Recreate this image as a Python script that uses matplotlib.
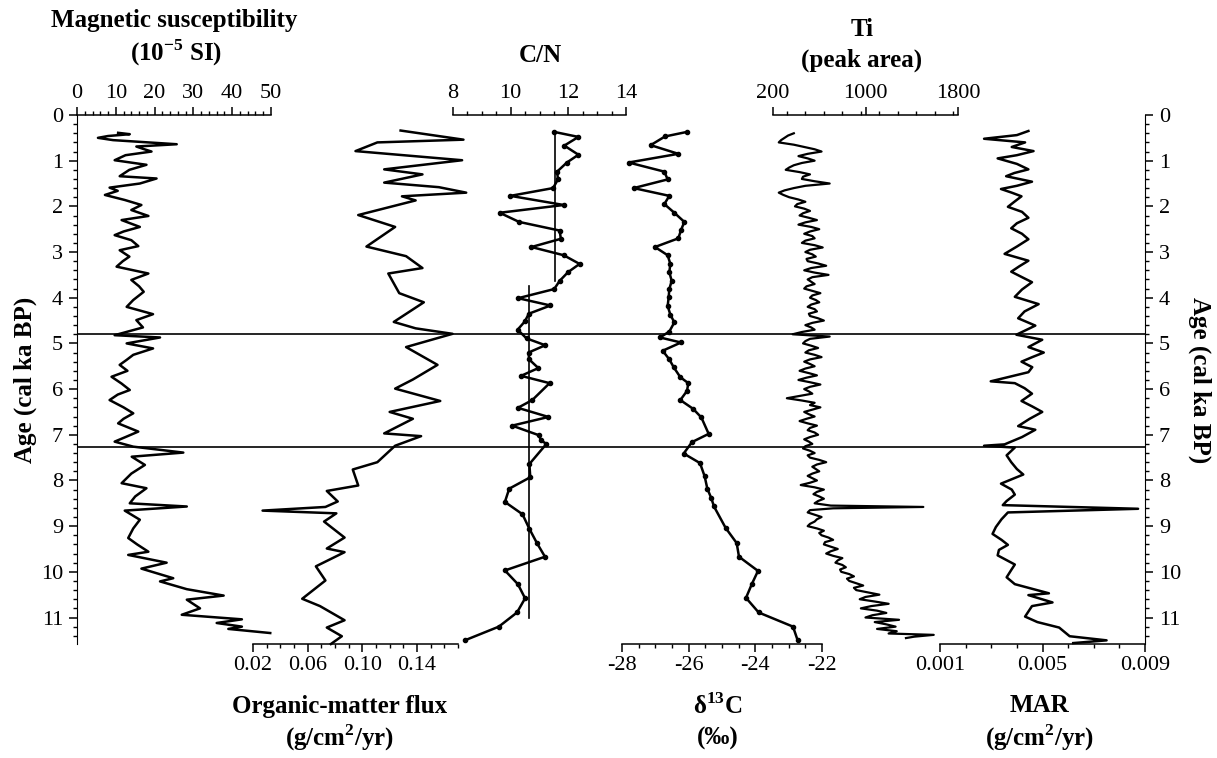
import matplotlib.pyplot as plt
from matplotlib.ticker import MultipleLocator, FixedLocator

plt.rcParams['font.family'] = ['Liberation Serif', 'DejaVu Serif']
plt.rcParams['axes.unicode_minus'] = False
plt.rcParams['mathtext.fontset'] = 'custom'
plt.rcParams['mathtext.rm'] = 'Liberation Serif'
plt.rcParams['mathtext.bf'] = 'Liberation Serif:bold'

# ---------------- data (age in cal ka BP) ----------------
ms_age = [0.39, 0.42, 0.46, 0.50, 0.55, 0.64, 0.69, 0.74, 0.80, 0.88, 0.99, 1.09, 1.20,
          1.34, 1.39, 1.50, 1.59, 1.66, 1.75, 1.86, 1.97, 2.08, 2.21, 2.30, 2.45, 2.55,
          2.63, 2.74, 2.87, 2.96, 3.10, 3.20, 3.32, 3.47, 3.61, 3.75, 3.87, 4.05, 4.20,
          4.36, 4.49, 4.65, 4.82, 4.87, 5.00, 5.11, 5.25, 5.36, 5.47, 5.60, 5.73, 5.88,
          6.02, 6.12, 6.24, 6.40, 6.53, 6.65, 6.75, 6.93, 7.05, 7.15, 7.26, 7.39, 7.48,
          7.66, 7.85, 8.06, 8.17, 8.35, 8.50, 8.57, 8.66, 8.86, 9.05, 9.26, 9.40, 9.56,
          9.63, 9.80, 9.93, 10.14, 10.21, 10.38, 10.52, 10.61, 10.80, 10.94, 11.04,
          11.12, 11.20, 11.25, 11.34]
ms_val = [10.6, 13.6, 8.0, 5.4, 9.3, 25.7, 15.3, 17.0, 19.2, 12.5, 9.7, 17.9, 13.5,
          11.0, 20.5, 16.2, 8.4, 10.5, 7.2, 12.3, 16.6, 14.0, 18.4, 11.5, 16.2, 12.0,
          9.7, 14.0, 15.8, 11.0, 13.5, 11.8, 10.2, 18.4, 14.0, 16.0, 17.2, 14.5, 12.8,
          19.6, 15.3, 17.0, 9.7, 21.4, 12.8, 19.6, 14.5, 12.8, 11.0, 13.0, 8.9, 11.5,
          13.6, 10.5, 8.4, 12.0, 14.5, 12.0, 10.6, 15.8, 12.5, 9.7, 14.5, 27.4, 14.1,
          17.5, 14.0, 11.5, 17.9, 15.0, 13.6, 28.3, 12.3, 16.2, 14.5, 13.2, 15.5, 18.4,
          13.2, 23.1, 16.6, 24.8, 21.4, 28.3, 37.8, 28.3, 31.7, 27.0, 42.5, 36.0, 42.5,
          39.0, 49.8]

om_age = [0.34, 0.54, 0.60, 0.79, 0.99, 1.19, 1.30, 1.48, 1.58, 1.70, 1.78, 1.87, 2.19,
          2.45, 2.88, 3.09, 3.35, 3.47, 3.90, 4.10, 4.53, 4.67, 4.79, 5.08, 5.47, 5.79,
          5.99, 6.26, 6.50, 6.65, 6.97, 7.03, 7.24, 7.60, 7.76, 8.11, 8.23, 8.46, 8.58,
          8.66, 8.72, 8.90, 9.25, 9.49, 9.57, 9.88, 10.19, 10.59, 10.75, 11.06, 11.22,
          11.41, 11.58]
om_val = [0.128, 0.174, 0.111, 0.095, 0.173, 0.116, 0.144, 0.116, 0.156, 0.176, 0.129,
          0.139, 0.097, 0.124, 0.103, 0.132, 0.144, 0.119, 0.127, 0.145, 0.123, 0.139,
          0.166, 0.132, 0.155, 0.137, 0.124, 0.157, 0.120, 0.137, 0.116, 0.143, 0.124,
          0.111, 0.093, 0.097, 0.074, 0.082, 0.073, 0.027, 0.081, 0.072, 0.087, 0.074,
          0.087, 0.066, 0.073, 0.056, 0.069, 0.087, 0.074, 0.085, 0.077]

cn_age = [0.37, 0.48, 0.67, 0.87, 1.04, 1.24, 1.41, 1.60, 1.77, 1.97, 2.14, 2.34, 2.53,
          2.71, 2.89, 3.07, 3.26, 3.44, 3.63, 3.81, 4.01, 4.17, 4.35, 4.52, 4.70, 4.89,
          5.04, 5.20, 5.35, 5.54, 5.71, 5.87, 6.24, 6.41, 6.61, 6.80, 7.01, 7.12, 7.20,
          7.64, 7.93, 8.18, 8.47, 8.74, 9.06, 9.37, 9.67, 9.97, 10.27, 10.58, 10.89,
          11.20, 11.50]
cn_val = [11.51, 12.35, 11.86, 12.35, 11.95, 11.61, 11.64, 11.47, 9.99, 11.84, 9.62,
          10.29, 11.70, 11.74, 10.72, 11.84, 12.39, 11.99, 11.70, 11.51, 10.26, 11.38,
          10.63, 10.49, 10.24, 10.55, 11.20, 10.62, 10.64, 10.96, 10.36, 11.35, 10.75,
          10.25, 11.31, 10.05, 10.98, 11.05, 11.24, 10.65, 10.68, 9.95, 9.80, 10.41,
          10.65, 10.91, 11.19, 9.80, 10.25, 10.50, 10.22, 9.59, 8.41]
cn_mean_upper = 11.55
cn_mean_upper_span = [0.37, 3.64]
cn_mean_lower = 10.64
cn_mean_lower_span = [3.75, 11.0]

d13c_age = [0.37, 0.47, 0.66, 0.85, 1.04, 1.24, 1.41, 1.60, 1.77, 1.95, 2.14, 2.34, 2.52,
            2.70, 2.89, 3.07, 3.26, 3.44, 3.63, 3.81, 3.99, 4.18, 4.37, 4.54, 4.74, 4.87,
            4.98, 5.16, 5.35, 5.52, 5.74, 5.87, 6.04, 6.24, 6.43, 6.62, 6.98, 7.16, 7.41,
            7.62, 7.91, 8.18, 8.39, 8.57, 9.04, 9.37, 9.67, 9.98, 10.26, 10.57, 10.89,
            11.20, 11.50]
d13c_val = [-26.05, -26.71, -27.14, -26.31, -27.80, -26.73, -26.63, -27.65, -26.58, -26.73,
            -26.43, -26.13, -26.23, -26.31, -27.01, -26.63, -26.55, -26.58, -26.51, -26.58,
            -26.60, -26.63, -26.55, -26.43, -26.58, -26.86, -26.23, -26.78, -26.58, -26.45,
            -26.25, -26.01, -26.05, -26.25, -25.87, -25.62, -25.40, -25.90, -26.15, -25.66,
            -25.52, -25.44, -25.32, -25.24, -24.89, -24.56, -24.49, -23.92, -24.10, -24.28,
            -23.90, -22.87, -22.73]

ti_age = [0.40, 0.45, 0.50, 0.55, 0.60, 0.65, 0.70, 0.75, 0.80, 0.85,
          0.90, 0.95, 1.00, 1.05, 1.10, 1.15, 1.20, 1.25, 1.30, 1.35,
          1.40, 1.45, 1.50, 1.55, 1.60, 1.65, 1.70, 1.75, 1.80, 1.85,
          1.90, 1.95, 2.00, 2.05, 2.10, 2.15, 2.20, 2.25, 2.30, 2.35,
          2.40, 2.45, 2.50, 2.55, 2.60, 2.65, 2.70, 2.75, 2.80, 2.85,
          2.90, 2.95, 3.00, 3.05, 3.10, 3.15, 3.20, 3.25, 3.30, 3.35,
          3.40, 3.45, 3.50, 3.55, 3.60, 3.65, 3.70, 3.75, 3.80, 3.85,
          3.90, 3.95, 4.00, 4.05, 4.10, 4.15, 4.20, 4.25, 4.30, 4.35,
          4.40, 4.45, 4.50, 4.55, 4.60, 4.65, 4.70, 4.75, 4.80, 4.85,
          4.90, 4.95, 5.00, 5.05, 5.10, 5.15, 5.20, 5.25, 5.30, 5.35,
          5.40, 5.45, 5.50, 5.55, 5.60, 5.65, 5.70, 5.75, 5.80, 5.85,
          5.90, 5.95, 6.00, 6.05, 6.10, 6.15, 6.20, 6.25, 6.30, 6.35,
          6.40, 6.45, 6.50, 6.55, 6.60, 6.65, 6.70, 6.75, 6.80, 6.85,
          6.90, 6.95, 7.00, 7.05, 7.10, 7.15, 7.20, 7.25, 7.30, 7.35,
          7.40, 7.45, 7.50, 7.55, 7.60, 7.65, 7.70, 7.75, 7.80, 7.85,
          7.90, 7.95, 8.00, 8.05, 8.10, 8.15, 8.20, 8.25, 8.30, 8.35,
          8.40, 8.45, 8.50, 8.55, 8.58, 8.61,
          8.65, 8.70, 8.75, 8.80, 8.85, 8.90, 8.95, 9.00, 9.05, 9.10,
          9.15, 9.20, 9.25, 9.30, 9.35, 9.40, 9.45, 9.50, 9.55, 9.60,
          9.65, 9.70, 9.75, 9.80, 9.85, 9.90, 9.95, 10.00, 10.05, 10.10,
          10.15, 10.20, 10.25, 10.30, 10.35, 10.40, 10.45, 10.50, 10.55, 10.60,
          10.65, 10.70, 10.75, 10.80, 10.85, 10.90, 10.95, 11.00, 11.05, 11.10,
          11.15, 11.20, 11.25, 11.30, 11.35, 11.38, 11.42, 11.45]
ti_val = [380, 330, 300, 270, 250, 380, 470, 560, 620, 500,
          420, 500, 560, 450, 380, 340, 310, 430, 520, 460,
          450, 560, 690, 480, 380, 300, 250, 290, 340, 420,
          480, 410, 390, 470, 520, 460, 430, 510, 580, 480,
          420, 530, 600, 520, 470, 540, 560, 480, 450, 560,
          630, 520, 480, 540, 570, 490, 500, 590, 660, 530,
          470, 560, 680, 540, 500, 530, 560, 490, 470, 540,
          610, 540, 520, 570, 600, 530, 500, 560, 580, 510,
          520, 590, 640, 540, 480, 530, 560, 450, 370, 690,
          520, 480, 460, 530, 590, 510, 480, 560, 620, 520,
          470, 520, 560, 480, 430, 510, 580, 490, 420, 520,
          610, 520, 470, 510, 540, 430, 320, 450, 560, 520,
          610, 540, 470, 510, 560, 490, 430, 500, 580, 520,
          500, 560, 590, 520, 470, 510, 540, 480, 460, 520,
          560, 500, 520, 600, 660, 580, 540, 570, 600, 540,
          500, 540, 580, 520, 440, 560, 640, 580, 550, 600,
          640, 590, 560, 700, 1500, 720,
          520, 500, 560, 620, 580, 560, 520, 500, 580, 640,
          600, 620, 680, 720, 650, 640, 700, 760, 700, 660,
          720, 800, 760, 740, 800, 830, 780, 790, 860, 900,
          840, 860, 920, 980, 900, 920, 1020, 1120, 1000, 950,
          1080, 1200, 1050, 960, 1100, 1180, 1060, 1000, 1290, 1080,
          1180, 1260, 1100, 1270, 1200, 1590, 1420, 1350]

mar_age = [0.35, 0.44, 0.52, 0.60, 0.70, 0.79, 0.88, 0.95, 1.07, 1.19, 1.27, 1.34, 1.46,
           1.55, 1.62, 1.70, 1.78, 1.90, 2.01, 2.12, 2.25, 2.37, 2.48, 2.60, 2.72, 2.88,
           3.04, 3.19, 3.31, 3.43, 3.55, 3.66, 3.82, 3.98, 4.14, 4.30, 4.45, 4.61, 4.81,
           4.92, 5.08, 5.20, 5.30, 5.40, 5.52, 5.63, 5.83, 5.87, 5.98, 6.10, 6.26, 6.38,
           6.50, 6.65, 6.81, 6.89, 7.05, 7.21, 7.24, 7.28, 7.45, 7.60, 7.75, 7.87, 8.07,
           8.20, 8.31, 8.45, 8.54, 8.62, 8.70, 8.85, 9.02, 9.17, 9.30, 9.41, 9.52, 9.64,
           9.84, 9.96, 10.12, 10.27, 10.47, 10.51, 10.67, 10.75, 10.98, 11.10, 11.22,
           11.41, 11.50, 11.56]
mar_val = [0.00445, 0.00400, 0.00272, 0.00432, 0.00380, 0.00465, 0.00400, 0.00325, 0.00400,
           0.00445, 0.00390, 0.00358, 0.00459, 0.00400, 0.00338, 0.00380, 0.00418, 0.00390,
           0.00365, 0.00420, 0.00445, 0.00400, 0.00378, 0.00420, 0.00445, 0.00400, 0.00352,
           0.00445, 0.00410, 0.00378, 0.00420, 0.00459, 0.00420, 0.00392, 0.00485, 0.00430,
           0.00405, 0.00472, 0.00398, 0.00499, 0.00445, 0.00505, 0.00460, 0.00418, 0.00460,
           0.00445, 0.00298, 0.00392, 0.00430, 0.00459, 0.00418, 0.00460, 0.00499, 0.00450,
           0.00405, 0.00472, 0.00420, 0.00352, 0.00272, 0.00392, 0.00360, 0.00378, 0.00400,
           0.00425, 0.00338, 0.00380, 0.00392, 0.00360, 0.00345, 0.00873, 0.00365, 0.00340,
           0.00318, 0.00305, 0.00340, 0.00365, 0.00330, 0.00325, 0.00392, 0.00378, 0.00360,
           0.00392, 0.00525, 0.00445, 0.00539, 0.00459, 0.00432, 0.00480, 0.00565, 0.00606,
           0.00750, 0.00620]

event_ages = [4.8, 7.27]

# ---------------- layout (pixels) ----------------
W, H = 1217, 758
Y_TOP, Y_BOT = 115, 644
AGE_MAX = 11.58
fig = plt.figure(figsize=(W / 100, H / 100), dpi=100)


def px_axes(x0, x1):
    ax = fig.add_axes([x0 / W, 1 - Y_BOT / H, (x1 - x0) / W, (Y_BOT - Y_TOP) / H])
    ax.set_ylim(AGE_MAX, 0)
    ax.patch.set_alpha(0)
    for s in ax.spines.values():
        s.set_visible(False)
    ax.set_yticks([])
    return ax


def style_x(ax, where, lo, hi, major, minor, labels=None):
    ax.set_xlim(lo, hi)
    ax.spines[where].set_visible(True)
    ax.spines[where].set_linewidth(1.1)
    if where == 'top':
        ax.xaxis.tick_top()
    else:
        ax.xaxis.tick_bottom()
    ax.xaxis.set_major_locator(FixedLocator(major))
    ax.xaxis.set_minor_locator(MultipleLocator(minor))
    if labels is not None:
        ax.set_xticklabels(labels)
    ax.tick_params(axis='x', which='major', length=6, width=1.1, labelsize=16, pad=3)
    ax.tick_params(axis='x', which='minor', length=3, width=1.0)


# base age axes (left and right)
base = px_axes(77, 1145)
base.spines['left'].set_visible(True)
base.spines['right'].set_visible(True)
base.set_xticks([])
base.yaxis.set_major_locator(MultipleLocator(1))
base.yaxis.set_minor_locator(MultipleLocator(0.2))
base.tick_params(axis='y', which='both', left=True, right=True, labelleft=True,
                 labelright=True, direction='out')
base.tick_params(axis='y', which='major', length=6, width=1.1, labelsize=16, pad=4)
base.tick_params(axis='y', which='minor', length=3, width=1.0)
base.set_ylim(AGE_MAX, 0)
for a in event_ages:
    base.axhline(a, color='black', lw=1.2)

lw = 1.8

ax1 = px_axes(77, 271)
style_x(ax1, 'top', 0, 50, [0, 10, 20, 30, 40, 50], 2)
ax1.plot(ms_val, ms_age, color='black', lw=lw, clip_on=False)

ax2 = px_axes(253, 458)
style_x(ax2, 'bottom', 0.02, 0.17, [0.02, 0.06, 0.10, 0.14], 0.01,
        ['0.02', '0.06', '0.10', '0.14'])
ax2.plot(om_val, om_age, color='black', lw=lw, clip_on=False)

ax3 = px_axes(453, 626)
style_x(ax3, 'top', 8, 14, [8, 10, 12, 14], 0.5)
ax3.plot(cn_val, cn_age, color='black', lw=lw, marker='o', ms=3, clip_on=False)
ax3.plot([cn_mean_upper] * 2, cn_mean_upper_span, color='black', lw=1.2)
ax3.plot([cn_mean_lower] * 2, cn_mean_lower_span, color='black', lw=1.2)

ax4 = px_axes(622, 822)
style_x(ax4, 'bottom', -28, -22, [-28, -26, -24, -22], 0.5,
        ['-28', '-26', '-24', '-22'])
ax4.plot(d13c_val, d13c_age, color='black', lw=lw, marker='o', ms=3, clip_on=False)

ax5 = px_axes(773, 958)
style_x(ax5, 'top', 200, 1800, [200, 1000, 1800], 160)
ax5.plot(ti_val, ti_age, color='black', lw=1.6, clip_on=False)

ax6 = px_axes(940, 1145)
style_x(ax6, 'bottom', 0.001, 0.009, [0.001, 0.005, 0.009], 0.001,
        ['0.001', '0.005', '0.009'])
ax6.plot(mar_val, mar_age, color='black', lw=lw, clip_on=False)


def ptext(x, y, s, size=18, **kw):
    fig.text(x / W, 1 - y / H, s, ha='center', va='center', fontsize=size,
             fontweight='bold', **kw)


ptext(174, 20, 'Magnetic susceptibility')
ptext(176, 53, r'(10$^{\mathbf{-5}}$ SI)')
ptext(540, 55, 'C/N')
ptext(862, 30, 'Ti')
ptext(862, 60, '(peak area)')
ptext(340, 706, 'Organic-matter flux')
ptext(340, 738, r'(g/cm$^{\mathbf{2}}$/yr)')
ptext(718, 706, r'δ$^{\mathbf{13}}$C')
ptext(718, 738, '(‰)')
ptext(1040, 706, 'MAR')
ptext(1040, 738, r'(g/cm$^{\mathbf{2}}$/yr)')
ptext(25, 380, 'Age (cal ka BP)', rotation=90)
ptext(1200, 380, 'Age (cal ka BP)', rotation=-90)

fig.savefig('out.png', dpi=100)
